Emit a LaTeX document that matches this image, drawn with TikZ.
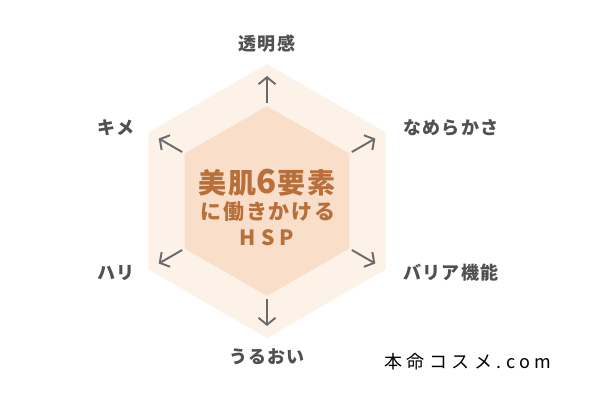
\documentclass[tikz,border=0pt]{standalone}
\usepackage{fontspec}
\setmainfont{Noto Sans CJK JP}
\usetikzlibrary{arrows.meta, calc}
\definecolor{hexlight}{HTML}{FDF2E7}
\definecolor{hexmid}{HTML}{F9DFCA}
\definecolor{textbrown}{HTML}{B86F3A}
\definecolor{labelgray}{HTML}{505050}
\definecolor{arrowgray}{HTML}{6A6A6A}

\begin{document}
\begin{tikzpicture}[x=1pt, y=-1pt, spoke/.style={draw=arrowgray, line width=1.9pt, -{Straight Barb[length=7pt, width=17pt]}}, axis/.style={font=\bfseries\fontsize{18}{20}\selectfont\addfontfeatures{LetterSpace=6}, text=labelgray}, title/.style={font=\bfseries\fontsize{#1}{#1}\selectfont\addfontfeatures{LetterSpace=8}, text=textbrown, inner sep=0pt}]
\useasboundingbox (0,0) rectangle (598,400);
\fill[white] (0,0) rectangle (598,400);
\coordinate (c) at (267,201);
\fill[hexlight] (267,64) -- (385.6,132.5) -- (385.6,269.5) -- (267,338) -- (148.4,269.5) -- (148.4,132.5) -- cycle;
\fill[hexmid] (267,106) -- (349.3,153.5) -- (349.3,248.5) -- (267,296) -- (184.7,248.5) -- (184.7,153.5) -- cycle;
% spokes, angle measured with y pointing down
\foreach \ang/\name in {-90/up, -30/upright, 30/downright, 90/down, 150/downleft, 210/upleft}{\coordinate (\name-in) at ($(c)+(\ang:98)$);\coordinate (\name-out) at ($(c)+(\ang:125)$);\draw[spoke] (\name-in) -- (\name-out);}
\node[axis] (clarity) at (267,44) {透明感};
\node[axis] (smooth) at (451,128) {なめらかさ};
\node[axis] (barrier) at (451,273) {バリア機能};
\node[axis] (moist) at (267,357) {うるおい};
\node[axis] (firm) at (116,273) {ハリ};
\node[axis] (texture) at (116,128) {キメ};
\node[title=28] (line1) at (267,183) {美肌\fontsize{33}{33}\selectfont 6\fontsize{28}{28}\selectfont 要素};
\node[title=21] (line2) at (268,212) {に働きかける};
\node[title=21, font=\bfseries\fontsize{21}{21}\selectfont\addfontfeatures{LetterSpace=25}] (line3) at (267,238) {HSP};
\node[font=\fontsize{18}{20}\selectfont\addfontfeatures{LetterSpace=25}] (mark) at (468,362) {本命コスメ.com};
\end{tikzpicture}
\end{document}
